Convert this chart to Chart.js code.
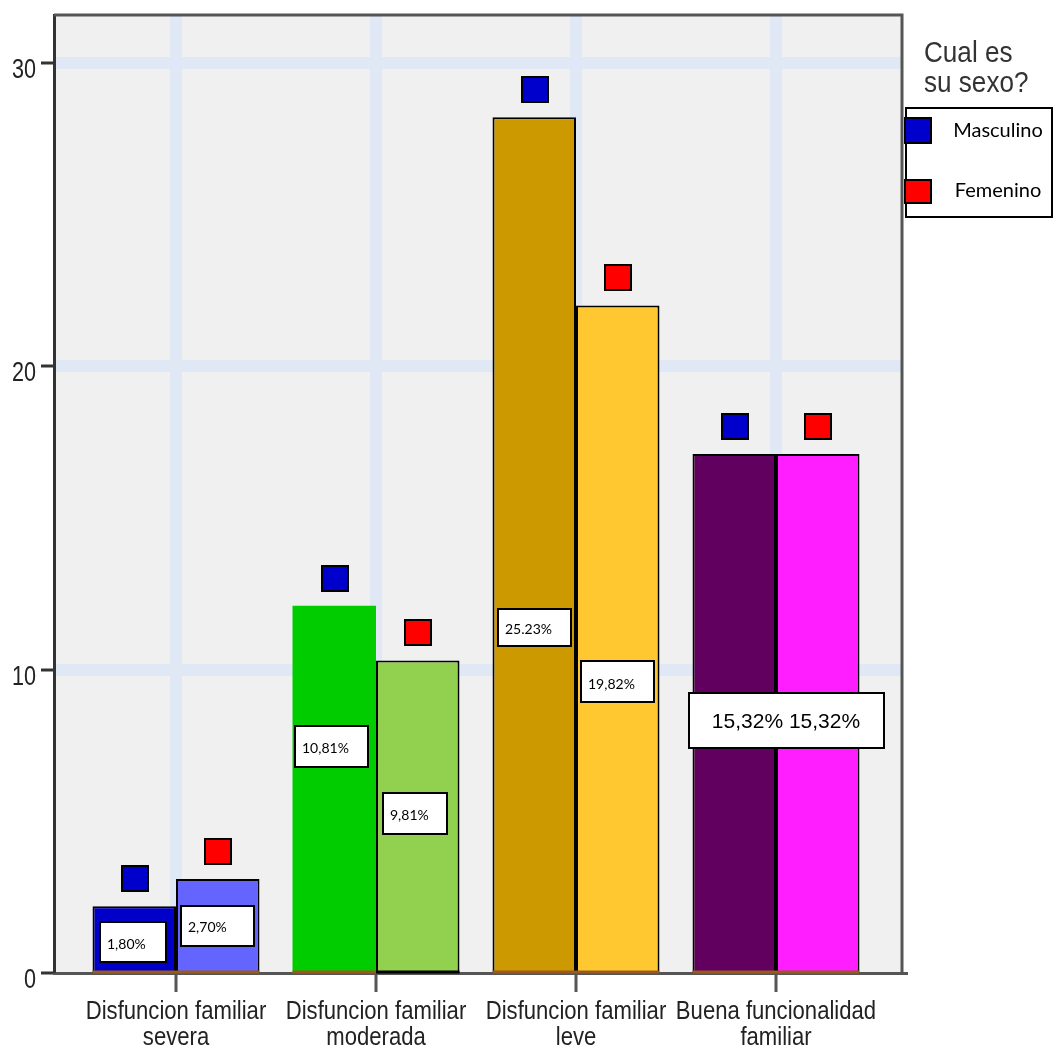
<!DOCTYPE html>
<html>
<head>
<meta charset="utf-8">
<script src="https://cdn.jsdelivr.net/npm/chart.js@4"></script>
<style>
  html, body { margin: 0; padding: 0; background: #ffffff; }
  #wrap { width: 1054px; height: 1047px; position: relative; }
</style>
</head>
<body>
<div id="wrap"><canvas id="chart"></canvas></div>
<script>
// ---- data ----
const categories = [
  ['Disfuncion familiar', 'severa'],
  ['Disfuncion familiar', 'moderada'],
  ['Disfuncion familiar', 'leve'],
  ['Buena funcionalidad', 'familiar']
];
const seriesNames = ['Masculino', 'Femenino'];
const masculino = [2.2, 12.1, 28.2, 17.1];
const femenino = [3.1, 10.3, 22.0, 17.1];
const labelsMasculino = ['1,80%', '10,81%', '25.23%', '15,32%'];
const labelsFemenino = ['2,70%', '9,81%', '19,82%', '15,32%'];
const yTicks = [0, 10, 20, 30];
const legendTitle = ['Cual es', 'su sexo?'];

// ---- styles ----
const colorsMasculino = ['#0000C8', '#00CC00', '#CC9900', '#620060'];
const colorsFemenino = ['#6464FF', '#92D050', '#FFC830', '#FF1EFF'];
const bordersMasculino = [2, 0, 2, 2];
const bordersFemenino = [2, 2, 2, 2];
const baseMasculino = ['#9A5A1E', '#9A5A1E', '#9A5A1E', '#9A5A1E'];
const baseFemenino = ['#9A5A1E', '#000000', '#9A5A1E', '#9A5A1E'];
const markerColors = ['#0000CC', '#FF0000'];
const SANS = '"Liberation Sans", Arial, sans-serif';
const AXIS_TEXT = '#222';

// value-label boxes: dataset (0, 1 or 'both'), category, horizontal offset, vertical centre in axis units
const boxLayout = [
  { ds: 0, i: 0, dx: -1, yv: 1.02, w: 66, h: 40 },
  { ds: 1, i: 0, dx: 0, yv: 1.55, w: 73, h: 40 },
  { ds: 0, i: 1, dx: -2.5, yv: 7.48, w: 73, h: 41 },
  { ds: 1, i: 1, dx: -3, yv: 5.25, w: 64, h: 41 },
  { ds: 0, i: 2, dx: 0, yv: 11.37, w: 73, h: 37 },
  { ds: 1, i: 2, dx: 0, yv: 9.59, w: 73, h: 41 },
  { ds: 'both', i: 3, dx: 10, yv: 8.31, w: 195, h: 55 }
];

const toPoints = arr => arr.map((v, i) => ({ x: i, y: v }));

// condensed text: regular face squeezed horizontally
function narrowText(ctx, text, x, y, size, squeeze, align) {
  ctx.save();
  ctx.translate(x, y);
  ctx.scale(squeeze, 1);
  ctx.font = size + 'px ' + SANS;
  ctx.textAlign = align;
  ctx.textBaseline = 'alphabetic';
  ctx.fillText(text, 0, 0);
  ctx.restore();
}

// grey plotting background
const plotBackground = {
  id: 'plotBackground',
  beforeDraw(chart) {
    const { ctx, chartArea: a } = chart;
    ctx.save();
    ctx.fillStyle = '#F0F0F0';
    ctx.fillRect(a.left, a.top, a.right - a.left, a.bottom - a.top);
    ctx.restore();
  }
};

// coloured strip where each bar meets the axis
const barBases = {
  id: 'barBases',
  afterDraw(chart) {
    const { ctx } = chart;
    ctx.save();
    ctx.lineWidth = 3;
    [baseMasculino, baseFemenino].forEach((cols, d) => {
      chart.getDatasetMeta(d).data.forEach((bar, i) => {
        const half = bar.width / 2;
        ctx.strokeStyle = cols[i];
        ctx.beginPath();
        ctx.moveTo(bar.x - half, bar.base - 1);
        ctx.lineTo(bar.x + half, bar.base - 1);
        ctx.stroke();
      });
    });
    ctx.restore();
  }
};

// square markers above each bar
const barMarkers = {
  id: 'barMarkers',
  afterDatasetsDraw(chart) {
    const { ctx } = chart;
    ctx.save();
    chart.data.datasets.forEach((ds, d) => {
      chart.getDatasetMeta(d).data.forEach(bar => {
        const s = 25, gap = 15;
        const x = Math.round(bar.x - s / 2), y = Math.round(bar.y - gap - s);
        ctx.fillStyle = markerColors[d];
        ctx.fillRect(x, y, s + 1, s);
        ctx.lineWidth = 2;
        ctx.strokeStyle = '#000';
        ctx.strokeRect(x, y, s + 1, s);
      });
    });
    ctx.restore();
  }
};

// boxed value labels
const valueBoxes = {
  id: 'valueBoxes',
  afterDatasetsDraw(chart) {
    const { ctx } = chart;
    const yScale = chart.scales.y, xScale = chart.scales.x;
    ctx.save();
    boxLayout.forEach(b => {
      let cx, text, centred;
      if (b.ds === 'both') {
        cx = xScale.getPixelForValue(b.i) + b.dx;
        text = labelsMasculino[b.i] + ' ' + labelsFemenino[b.i];
        centred = true;
      } else {
        const bar = chart.getDatasetMeta(b.ds).data[b.i];
        cx = bar.x + b.dx;
        text = (b.ds === 0 ? labelsMasculino : labelsFemenino)[b.i];
        centred = false;
      }
      const cy = yScale.getPixelForValue(b.yv);
      const x = Math.round(cx - b.w / 2), y = Math.round(cy - b.h / 2);
      ctx.fillStyle = '#fff';
      ctx.fillRect(x, y, b.w, b.h);
      ctx.lineWidth = 2;
      ctx.strokeStyle = '#000';
      ctx.strokeRect(x, y, b.w, b.h);
      ctx.fillStyle = '#000';
      ctx.textBaseline = 'middle';
      if (centred) {
        ctx.font = '21px ' + SANS;
        ctx.textAlign = 'center';
        ctx.fillText(text, cx, cy + 1);
      } else {
        ctx.font = '14px Lato, "Open Sans", sans-serif';
        ctx.textAlign = 'left';
        ctx.fillText(text, x + 7, cy + 2);
      }
    });
    ctx.restore();
  }
};

// axis tick labels in a condensed style
const axisLabels = {
  id: 'axisLabels',
  afterDraw(chart) {
    const { ctx } = chart;
    const xs = chart.scales.x, ys = chart.scales.y;
    ctx.save();
    ctx.fillStyle = AXIS_TEXT;
    categories.forEach((lines, i) => {
      const cx = xs.getPixelForValue(i);
      lines.forEach((line, k) => narrowText(ctx, line, cx, xs.top + 46 + k * 26, 26, 0.85, 'center'));
    });
    yTicks.forEach(v => {
      narrowText(ctx, String(v), ys.right - 18, ys.getPixelForValue(v) + 15, 27, 0.8, 'right');
    });
    ctx.restore();
  }
};

// frame around the plot, legend title and legend box
const frameAndLegend = {
  id: 'frameAndLegend',
  afterDraw(chart) {
    const { ctx, chartArea: a } = chart;
    ctx.save();
    ctx.strokeStyle = '#555';
    ctx.lineWidth = 3;
    ctx.beginPath();
    ctx.moveTo(a.left, a.top);
    ctx.lineTo(a.right, a.top);
    ctx.lineTo(a.right, a.bottom);
    ctx.stroke();

    // legend title
    const lx = a.right + 22;
    ctx.fillStyle = '#333';
    legendTitle.forEach((line, k) => narrowText(ctx, line, lx, 62 + k * 30, 29, 0.9, 'left'));

    // legend box
    const bx = a.right + 4, by = 108, bw = 146, bh = 109;
    ctx.fillStyle = '#fff';
    ctx.fillRect(bx, by, bw, bh);
    ctx.strokeStyle = '#000';
    ctx.lineWidth = 2;
    ctx.strokeRect(bx, by, bw, bh);
    const rows = [{ y: 118, h: 25, ty: 131 }, { y: 180, h: 23, ty: 191 }];
    ctx.font = '20px Lato, "Open Sans", sans-serif';
    ctx.textAlign = 'center';
    ctx.textBaseline = 'middle';
    seriesNames.forEach((name, k) => {
      const r = rows[k];
      ctx.fillStyle = markerColors[k];
      ctx.fillRect(bx - 1, r.y, 26, r.h);
      ctx.strokeStyle = '#000';
      ctx.lineWidth = 2;
      ctx.strokeRect(bx - 1, r.y, 26, r.h);
      ctx.fillStyle = '#000';
      ctx.fillText(name, bx + 92, r.ty);
    });
    ctx.restore();
  }
};

const gridColor = '#E1E8F5';
const isZero = c => c.tick && c.tick.value === 0;

new Chart(document.getElementById('chart'), {
  type: 'bar',
  data: {
    datasets: [
      {
        label: seriesNames[0],
        data: toPoints(masculino),
        backgroundColor: colorsMasculino,
        borderColor: '#000',
        borderWidth: bordersMasculino,
        borderSkipped: 'bottom'
      },
      {
        label: seriesNames[1],
        data: toPoints(femenino),
        backgroundColor: colorsFemenino,
        borderColor: '#000',
        borderWidth: bordersFemenino,
        borderSkipped: 'bottom'
      }
    ]
  },
  options: {
    responsive: true,
    maintainAspectRatio: false,
    animation: false,
    events: [],
    layout: { padding: { top: 15, right: 152, left: 0, bottom: 0 } },
    datasets: { bar: { categoryPercentage: 0.835, barPercentage: 1.0 } },
    plugins: {
      legend: { display: false },
      tooltip: { enabled: false }
    },
    scales: {
      x: {
        type: 'linear',
        min: -0.61,
        max: 3.63,
        offset: false,
        afterBuildTicks: s => { s.ticks = categories.map((c, i) => ({ value: i })); },
        afterFit: s => { s.height = 74; },
        ticks: { display: false },
        grid: {
          offset: false,
          color: gridColor,
          lineWidth: 12,
          tickColor: '#555',
          tickWidth: 3,
          tickLength: 19
        },
        border: { display: true, color: '#555', width: 3 }
      },
      y: {
        min: 0,
        max: 31.57,
        afterBuildTicks: s => { s.ticks = yTicks.map(v => ({ value: v })); },
        afterFit: s => { s.width = 54; },
        ticks: { display: false },
        grid: {
          color: c => isZero(c) ? 'rgba(0,0,0,0)' : gridColor,
          lineWidth: c => isZero(c) ? 0 : 12,
          tickColor: '#333',
          tickWidth: 3,
          tickLength: 13
        },
        border: { display: true, color: '#333', width: 3 }
      }
    }
  },
  plugins: [plotBackground, barMarkers, valueBoxes, barBases, axisLabels, frameAndLegend]
});
</script>
</body>
</html>
